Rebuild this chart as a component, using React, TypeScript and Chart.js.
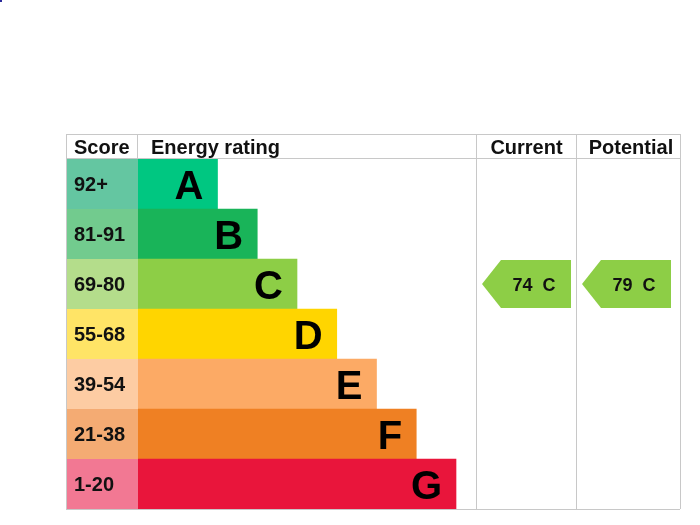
import React, { useEffect, useRef } from "react";
import { Chart, registerables } from "chart.js";

Chart.register(...registerables);

const ratings = ["A", "B", "C", "D", "E", "F", "G"];
const scoreBands = ["92+", "81-91", "69-80", "55-68", "39-54", "21-38", "1-20"];
const bandMin = [92, 81, 69, 55, 39, 21, 1];
const barLengths = [2, 3, 4, 5, 6, 7, 8];
const barColors = ["#00c781", "#19b459", "#8dce46", "#ffd500", "#fcaa65", "#ef8023", "#e9153b"];
const scoreColors = ["#64c6a1", "#72cb8e", "#b4dd8b", "#ffe466", "#fdcca3", "#f4ab73", "#f27893"];
const headers = ["Score", "Energy rating", "Current", "Potential"];
const currentScore = 74;
const potentialScore = 79;

const FONT = "Arial, 'Liberation Sans', sans-serif";

function bandIndex(score: number) {
  for (let i = 0; i < bandMin.length; i++) if (score >= bandMin[i]) return i;
  return bandMin.length - 1;
}

const tablePlugin = {
  id: "epcTable",
  beforeDatasetsDraw(chart: any) {
    const ctx = chart.ctx;
    const area = chart.chartArea;
    const meta = chart.getDatasetMeta(0);
    const scoreLeft = 66;
    const tableRight = 680;
    const headerTop = 134;
    const curLeft = area.right;
    const potLeft = area.right + 100;
    ctx.save();
    // stray mark in the corner of the original
    ctx.fillStyle = "#2a2a9a";
    ctx.fillRect(0, 0, 2, 2);
    // score cells
    meta.data.forEach((el: any, i: number) => {
      const h = el.height;
      ctx.fillStyle = scoreColors[i];
      ctx.fillRect(scoreLeft, el.y - h / 2, area.left - scoreLeft, h);
      ctx.fillStyle = "#111";
      ctx.font = `bold 20px ${FONT}`;
      ctx.textAlign = "left";
      ctx.textBaseline = "alphabetic";
      ctx.fillText(scoreBands[i], 74, el.y + 7);
    });
    // grid
    ctx.strokeStyle = "#c8c8c8";
    ctx.lineWidth = 1;
    const line = (x1: number, y1: number, x2: number, y2: number) => {
      ctx.beginPath();
      ctx.moveTo(x1, y1);
      ctx.lineTo(x2, y2);
      ctx.stroke();
    };
    line(scoreLeft, headerTop + 0.5, tableRight, headerTop + 0.5);
    line(scoreLeft, area.top - 0.5, tableRight, area.top - 0.5);
    line(scoreLeft, area.bottom + 0.5, tableRight, area.bottom + 0.5);
    line(scoreLeft + 0.5, headerTop, scoreLeft + 0.5, area.bottom);
    line(area.left - 0.5, headerTop, area.left - 0.5, area.top);
    line(curLeft + 0.5, headerTop, curLeft + 0.5, area.bottom);
    line(potLeft + 0.5, headerTop, potLeft + 0.5, area.bottom);
    line(tableRight + 0.5, headerTop, tableRight + 0.5, area.bottom);
    // headers
    ctx.fillStyle = "#111";
    ctx.font = `bold 20px ${FONT}`;
    ctx.textBaseline = "alphabetic";
    ctx.textAlign = "left";
    ctx.fillText(headers[0], 74, 154);
    ctx.fillText(headers[1], 151, 154);
    ctx.textAlign = "center";
    ctx.fillText(headers[2], (curLeft + potLeft) / 2 + 0.5, 154);
    ctx.fillText(headers[3], (potLeft + tableRight) / 2 + 3, 154);
    ctx.restore();
  },
  afterDatasetsDraw(chart: any) {
    const ctx = chart.ctx;
    const area = chart.chartArea;
    const meta = chart.getDatasetMeta(0);
    ctx.save();
    // letters
    meta.data.forEach((el: any, i: number) => {
      ctx.fillStyle = "#000";
      ctx.font = `bold 40px ${FONT}`;
      ctx.textAlign = "right";
      ctx.textBaseline = "alphabetic";
      ctx.fillText(ratings[i], el.x - 14, el.y + 15);
    });
    // arrows
    const drawArrow = (score: number, colLeft: number) => {
      const idx = bandIndex(score);
      const el: any = meta.data[idx];
      const h = el.height;
      const top = el.y - h / 2 + 1;
      const bottom = el.y + h / 2 - 1;
      const tip = colLeft + 6;
      const bodyStart = tip + 19;
      const right = colLeft + 95;
      ctx.fillStyle = barColors[idx];
      ctx.beginPath();
      ctx.moveTo(tip, el.y);
      ctx.lineTo(bodyStart, top);
      ctx.lineTo(right, top);
      ctx.lineTo(right, bottom);
      ctx.lineTo(bodyStart, bottom);
      ctx.closePath();
      ctx.fill();
      ctx.fillStyle = "#111";
      ctx.font = `bold 18px ${FONT}`;
      ctx.textAlign = "center";
      ctx.textBaseline = "alphabetic";
      ctx.fillText(`${score}  ${ratings[idx]}`, colLeft + 58, el.y + 7);
    };
    drawArrow(currentScore, area.right);
    drawArrow(potentialScore, area.right + 100);
    ctx.restore();
  },
};

export default function App() {
  const ref = useRef<HTMLCanvasElement | null>(null);
  useEffect(() => {
    if (!ref.current) return;
    const chart = new Chart(ref.current, {
      type: "bar",
      data: {
        labels: ratings,
        datasets: [
          {
            data: barLengths,
            backgroundColor: barColors,
            borderWidth: 0,
            barPercentage: 1,
            categoryPercentage: 1,
          },
        ],
      },
      options: {
        indexAxis: "y",
        responsive: false,
        animation: false,
        events: [],
        layout: { padding: { left: 138, right: 224, top: 159, bottom: 16 } },
        scales: {
          x: { display: false, min: 0, max: 338 / 39.75 },
          y: { display: false },
        },
        plugins: { legend: { display: false }, tooltip: { enabled: false } },
      },
      plugins: [tablePlugin],
    } as any);
    return () => chart.destroy();
  }, []);
  return (
    <div style={{ position: "fixed", left: 0, top: 0, width: 700, height: 525, background: "#fff" }}>
      <canvas ref={ref} width={700} height={525} style={{ display: "block" }} />
    </div>
  );
}
